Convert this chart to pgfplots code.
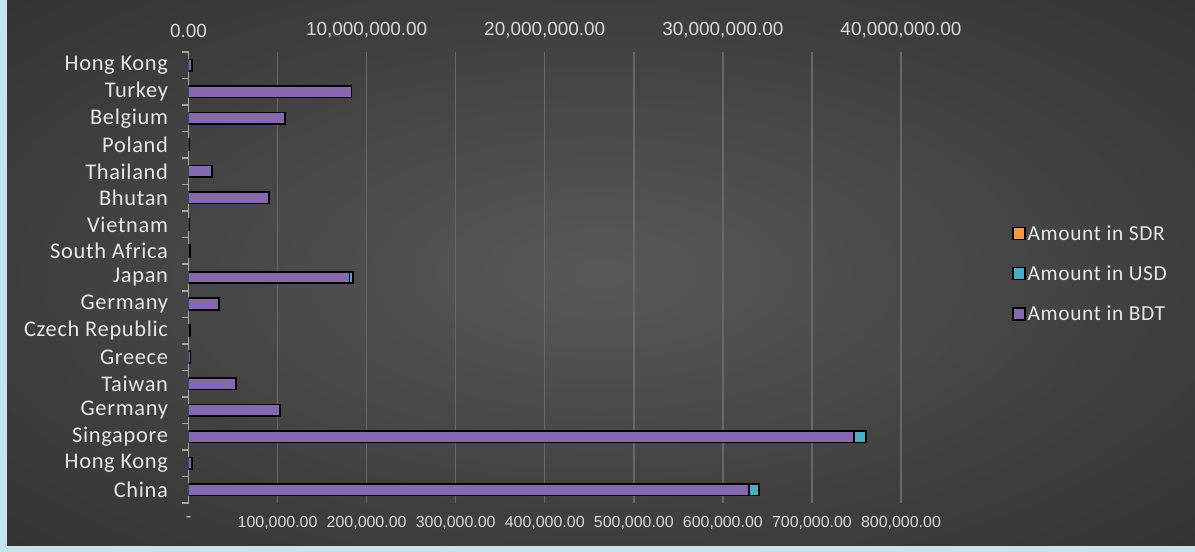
\documentclass[border=0pt]{standalone}
\usepackage{pgfplots}
\pgfplotsset{compat=1.18}
\usepackage{pgfplotstable}
\usepackage{fontspec}
\setmainfont{Liberation Sans}
\newfontfamily\catfont[LetterSpace=3]{Carlito}
\definecolor{usdcyan}{HTML}{4BACC6}
\definecolor{bdtpurple}{HTML}{8668AE}
\definecolor{sdrorange}{HTML}{F79646}
\definecolor{gridgray}{HTML}{686868}
\definecolor{axisgray}{HTML}{A6A6A6}
\definecolor{lbl}{HTML}{E6E6E6}
\definecolor{ticklbl}{HTML}{D9D9D9}
\definecolor{bgc}{HTML}{585858}
\definecolor{bgm}{HTML}{3E3E3E}
\definecolor{bgo}{HTML}{2A2A2A}
\definecolor{edgeblue}{HTML}{C4E4EC}
\pgfdeclareradialshading{panel}{\pgfpoint{0bp}{0bp}}{color(0bp)=(bgc); color(24bp)=(bgm); color(46bp)=(bgo); color(75bp)=(bgo)}

% y: 0 = China (bottom) ... 16 = Hong Kong (top)
\pgfplotstableread{
y bdt usd
0 31470000 640600
1 200000 3900
2 37360000 760700
3 5120000 100000
4 2650000 51900
5 120000 2300
6 100000 1900
7 1700000 33300
8 9040000 184700
9 100000 1900
10 40000 800
11 4500000 88200
12 1300000 25500
13 50000 1000
14 5400000 105900
15 9150000 179400
16 200000 3900
}\data

\begin{document}
\begin{tikzpicture}[x=1bp,y=1bp]
\useasboundingbox (0,0) rectangle (1195,552);
\fill[bgo] (-10,-10) rectangle (1210,565);
\shade[shading=panel] (7,6) rectangle (1195,552);
\fill[edgeblue] (-10,-10) rectangle (7,565);
\fill[edgeblue] (-10,-10) rectangle (1210,6);

\begin{axis}[
  at={(188.5bp,49bp)}, anchor=south west, scale only axis,
  width=712.5bp, height=451bp,
  xbar, bar width=11.5bp,
  xmin=0, xmax=800000, ymin=-0.5, ymax=16.5,
  axis x line*=bottom, axis y line*=left,
  x axis line style={draw=none},
  y axis line style={draw=axisgray, line width=1.5bp, -},
  scaled x ticks=false,
  xtick={0,100000,200000,300000,400000,500000,600000,700000,800000},
  xticklabels={-,{100,000.00},{200,000.00},{300,000.00},{400,000.00},{500,000.00},{600,000.00},{700,000.00},{800,000.00}},
  xmajorgrids, grid style={gridgray, line width=1.4bp},
  ytick={0,...,16},
  yticklabels={China,Hong Kong,Singapore,Germany,Taiwan,Greece,Czech Republic,Germany,Japan,South Africa,Vietnam,Bhutan,Thailand,Poland,Belgium,Turkey,Hong Kong},
  minor ytick={-0.5,0.5,...,16.5},
  major tick length=0pt, minor tick length=7bp, tick align=outside,
  y tick style={draw=axisgray, line width=1.5bp},
  x tick style={draw=none},
  xticklabel style={font=\fontsize{16}{18}\selectfont, text=ticklbl, yshift=-10bp},
  yticklabel style={font=\catfont\fontsize{22.5}{26}\selectfont, text=lbl, anchor=east, xshift=-17bp},
]
\addplot+[bar shift=0pt, fill=usdcyan, draw=black, line width=1.7bp]
  table[x=usd, y=y] {\data};
\end{axis}

\begin{axis}[
  at={(188.5bp,49bp)}, anchor=south west, scale only axis,
  width=712.5bp, height=451bp,
  xbar, bar width=11.5bp,
  xmin=0, xmax=40000000, ymin=-0.5, ymax=16.5,
  axis x line*=top, axis y line=none,
  x axis line style={draw=none},
  scaled x ticks=false,
  xtick={0,10000000,20000000,30000000,40000000},
  xticklabels={0.00,{10,000,000.00},{20,000,000.00},{30,000,000.00},{40,000,000.00}},
  major tick length=0pt, x tick style={draw=none},
  ytick=\empty,
  xticklabel style={font=\fontsize{19}{22}\selectfont, text=ticklbl, yshift=11bp},
  legend style={at={(1.156,0.508)}, anchor=west, draw=none, fill=none, text=lbl,
    font=\catfont\fontsize{21.5}{25}\selectfont, row sep=20bp, inner sep=0pt},
  legend cell align=left,
]
\addlegendimage{legend image code/.code={\draw[fill=sdrorange,draw=black,line width=1.2bp] (0bp,-6bp) rectangle (12bp,6bp);}}
\addlegendentry{Amount in SDR}
\addlegendimage{legend image code/.code={\draw[fill=usdcyan,draw=black,line width=1.2bp] (0bp,-6bp) rectangle (12bp,6bp);}}
\addlegendentry{Amount in USD}
\addlegendimage{legend image code/.code={\draw[fill=bdtpurple,draw=black,line width=1.2bp] (0bp,-6bp) rectangle (12bp,6bp);}}
\addlegendentry{Amount in BDT}
\addplot+[forget plot, bar shift=0pt, fill=bdtpurple, draw=black, line width=1.7bp]
  table[x=bdt, y=y] {\data};
\end{axis}
\end{tikzpicture}
\end{document}
